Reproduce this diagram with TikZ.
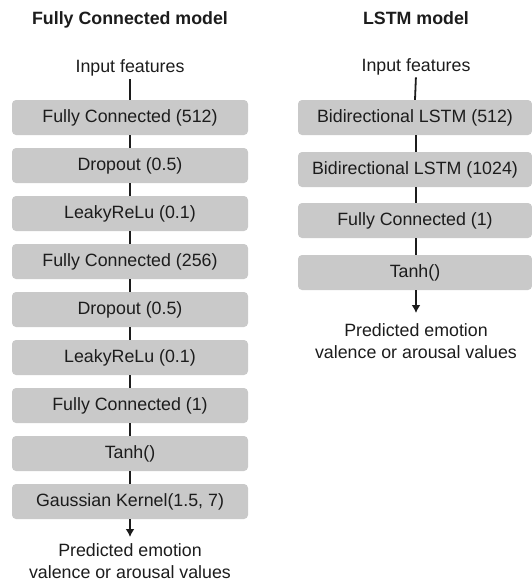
\documentclass[tikz,border=0pt]{standalone}
\usepackage{fontspec}
\setmainfont{Liberation Sans}
\usetikzlibrary{arrows.meta}
\definecolor{layerfill}{HTML}{C9C9C9}
\definecolor{inkc}{HTML}{1C1C1C}
\begin{document}
\begin{tikzpicture}[x=1pt,y=-1pt,
  every node/.style={text=inkc,font=\fontsize{17.8}{21.5}\selectfont},
  layer/.style={fill=layerfill,rounded corners=4pt,minimum width=236pt,
    minimum height=35pt,inner sep=0pt},
  caption/.style={font=\fontsize{17.8}{21.5}\selectfont\bfseries,anchor=base},
  plain/.style={inner sep=0pt},
  result/.style={plain,anchor=north,align=center,
    font=\fontsize{17.8}{22}\selectfont},
  link/.style={draw=inkc,line width=1.8pt},
  outlink/.style={link,-{Latex[length=8pt,width=9pt]}}]
\useasboundingbox (0,0) rectangle (532,582);

% Fully connected network
\node[caption] (t1) at (130,24.4) {Fully Connected model};
\node[plain,anchor=base] (in1) at (130,72.5) {Input features};
\node[layer] (a1) at (130,117.5) {Fully Connected (512)};
\node[layer] (a2) at (130,165.5) {Dropout (0.5)};
\node[layer] (a3) at (130,213.5) {LeakyReLu (0.1)};
\node[layer] (a4) at (130,261.5) {Fully Connected (256)};
\node[layer] (a5) at (130,309.5) {Dropout (0.5)};
\node[layer] (a6) at (130,357.5) {LeakyReLu (0.1)};
\node[layer] (a7) at (130,405.5) {Fully Connected (1)};
\node[layer] (a8) at (130,453.5) {Tanh()};
\node[layer] (a9) at (130,501.5) {Gaussian Kernel(1.5, 7)};
\node[result] (out1) at (130,543.5)
  {Predicted emotion\\valence or arousal values};

\draw[link,shorten <=3pt] (in1.south) -- (a1.north);
\foreach \i/\j in {1/2,2/3,3/4,4/5,5/6,6/7,7/8,8/9}
  \draw[link] (a\i.south) -- (a\j.north);
\draw[outlink,shorten >=6.5pt] (a9.south) -- (out1.north);

% LSTM network
\node[caption] (t2) at (416,24.4) {LSTM model};
\node[plain,anchor=base] (in2) at (416,71.5) {Input features};
\node[layer,minimum width=234pt] (b1) at (415,117.5) {Bidirectional LSTM (512)};
\node[layer,minimum width=234pt] (b2) at (415,169.5) {Bidirectional LSTM (1024)};
\node[layer,minimum width=234pt] (b3) at (415,220.5) {Fully Connected (1)};
\node[layer,minimum width=234pt] (b4) at (415,272.5) {Tanh()};
\node[result] (out2) at (416,323)
  {Predicted emotion\\valence or arousal values};

\draw[link,shorten <=2pt] (in2.south) -- (b1.north);
\foreach \i/\j in {1/2,2/3,3/4}
  \draw[link] ([xshift=1pt]b\i.south) -- ([xshift=1pt]b\j.north);
\draw[outlink,shorten >=10pt] ([xshift=1pt]b4.south) -- (out2.north);
\end{tikzpicture}
\end{document}
